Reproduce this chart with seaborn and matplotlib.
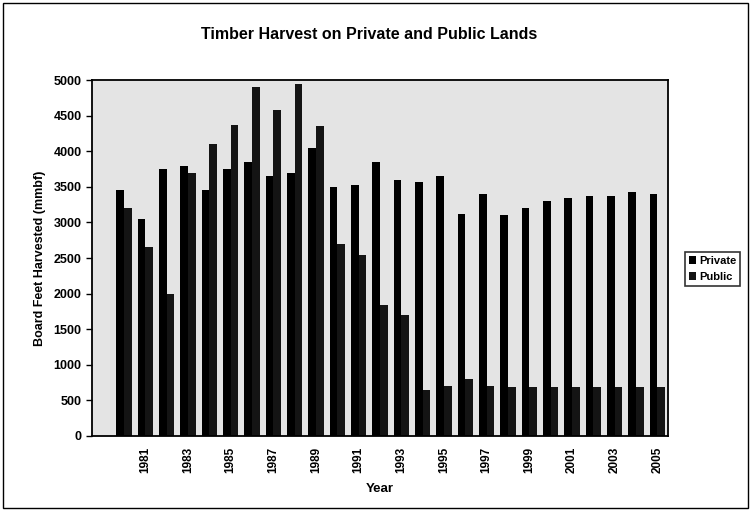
import pandas as pd
import matplotlib.pyplot as plt
import seaborn as sns
from matplotlib.patches import Rectangle

years = list(range(1980, 2006))
private = [3450, 3050, 3750, 3800, 3450, 3750, 3850, 3650, 3700, 4050,
           3500, 3525, 3850, 3600, 3575, 3650, 3125, 3400, 3100, 3200,
           3300, 3350, 3375, 3375, 3425, 3400]
public = [3200, 2650, 2000, 3700, 4100, 4375, 4900, 4575, 4950, 4350,
          2700, 2550, 1840, 1700, 650, 700, 800, 700, 690, 690,
          690, 690, 690, 690, 690, 690]

sns.set_style('white')
plt.rcParams['font.family'] = ['Liberation Sans', 'DejaVu Sans']
plt.rcParams['text.color'] = 'black'
plt.rcParams['axes.labelcolor'] = 'black'
plt.rcParams['xtick.color'] = 'black'
plt.rcParams['ytick.color'] = 'black'

df = pd.DataFrame({'Year': [str(y) for y in years] * 2,
                   'Harvest': private + public,
                   'Land': ['Private'] * len(years) + ['Public'] * len(years)})

fig = plt.figure(figsize=(7.53, 5.24), dpi=100)
ax = fig.add_axes([0.122, 0.168, 0.765, 0.679])
ax.set_facecolor('#e4e4e4')

sns.barplot(data=df, x='Year', y='Harvest', hue='Land', order=[str(y) for y in years],
            palette={'Private': '#000000', 'Public': '#141414'}, width=0.72,
            saturation=1, linewidth=0, ax=ax, legend=True)

ax.set_xlim(-1.5, len(years) - 0.5)
ax.set_ylim(0, 5000)
ax.set_yticks(range(0, 5001, 500))
ax.set_yticklabels([str(v) for v in range(0, 5001, 500)], fontsize=9, fontweight='bold')
# labels on every other year, tick marks between categories
lab_pos = list(range(1, len(years), 2))
ax.set_xticks(lab_pos)
ax.set_xticklabels([str(years[i]) for i in lab_pos], rotation=90, fontsize=8.5, fontweight='bold')
ax.set_xticks([i - 0.5 for i in range(-1, len(years) + 1)], minor=True)
ax.tick_params(axis='x', which='major', length=0, pad=8)
ax.tick_params(axis='x', which='minor', length=4, direction='out', width=1)
ax.tick_params(axis='y', length=4, direction='out', width=1, left=True)

for s in ax.spines.values():
    s.set_visible(True)
    s.set_color('black')
    s.set_linewidth(1.3)

ax.set_xlabel('Year', fontsize=9.5, fontweight='bold', labelpad=7)
ax.set_ylabel('Board Feet Harvested (mmbf)', fontsize=9, fontweight='bold', labelpad=5)
fig.text(0.49, 0.935, 'Timber Harvest on Private and Public Lands', ha='center', va='center',
         fontsize=11.5, fontweight='bold')

leg = ax.legend(loc='center left', bbox_to_anchor=(1.02, 0.47), frameon=True, fancybox=False,
                handlelength=0.6, handleheight=0.8, handletextpad=0.3,
                borderpad=0.35, labelspacing=0.5, prop={'weight': 'bold', 'size': 8})
leg.get_frame().set_edgecolor('black')
leg.get_frame().set_linewidth(1.2)

# outer chart border
fig.patches.append(Rectangle((0.004, 0.03), 0.99, 0.965, transform=fig.transFigure,
                             fill=False, edgecolor='black', linewidth=1))

fig.savefig('out.png', dpi=100)
